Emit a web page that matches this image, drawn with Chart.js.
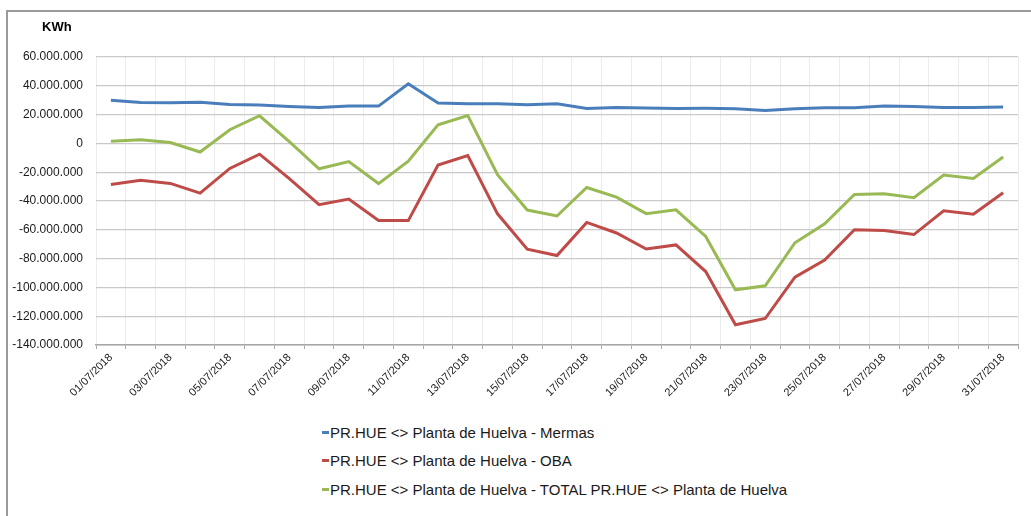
<!DOCTYPE html>
<html>
<head>
<meta charset="utf-8">
<script src="https://cdn.jsdelivr.net/npm/chart.js@4/dist/chart.umd.min.js"></script>
<style>
    body { margin: 0; background: #fff; font-family: "Liberation Sans", Arial, sans-serif; }
    #frame { position: absolute; left: 6px; top: 10px; width: 1100px; height: 600px;
             border-left: 2px solid #9a9a9a; border-top: 2px solid #9a9a9a; box-sizing: border-box; }
    #wrap { position: absolute; left: 0; top: 0; width: 1031px; height: 415px; }
    #unit { position: absolute; left: 42px; top: 18.5px; font-size: 13px; font-weight: bold; color: #000; }
    #legend { position: absolute; left: 322px; top: 418px; font-size: 15px; color: #1a1a1a; }
    .legend-row { height: 28.5px; display: flex; align-items: center; white-space: nowrap; }
    .legend-mark { width: 7px; height: 3px; margin-right: 1px; }
</style>
</head>
<body>
<div id="frame"></div>
<div id="wrap"><canvas id="chart"></canvas></div>
<div id="unit">KWh</div>
<div id="legend"></div>
<script>
const days = [
    '01/07/2018', '02/07/2018', '03/07/2018', '04/07/2018', '05/07/2018', '06/07/2018', '07/07/2018',
    '08/07/2018', '09/07/2018', '10/07/2018', '11/07/2018', '12/07/2018', '13/07/2018', '14/07/2018',
    '15/07/2018', '16/07/2018', '17/07/2018', '18/07/2018', '19/07/2018', '20/07/2018', '21/07/2018',
    '22/07/2018', '23/07/2018', '24/07/2018', '25/07/2018', '26/07/2018', '27/07/2018', '28/07/2018',
    '29/07/2018', '30/07/2018', '31/07/2018',
];

const mermas = [
    30000000, 28400000, 28200000, 28600000, 27000000, 26600000, 25600000, 25000000, 26000000, 25900000,
    41400000, 28000000, 27600000, 27500000, 26900000, 27600000, 24300000, 25000000, 24500000, 24300000,
    24400000, 24100000, 22800000, 24100000, 24800000, 24700000, 26000000, 25600000, 25000000, 25000000,
    25200000,
];

const oba = [
    -28500000, -25600000, -27800000, -34500000, -17400000, -7500000, -24500000, -42600000, -38600000, -53600000,
    -53600000, -15000000, -8400000, -48900000, -73400000, -77900000, -54900000, -62200000, -73300000, -70500000,
    -89000000, -125900000, -121600000, -92900000, -81000000, -60000000, -60500000, -63300000, -46800000, -49200000,
    -34300000,
];

const total = [
    1500000, 2600000, 600000, -6000000, 9500000, 19200000, 1300000, -17600000, -12600000, -27900000,
    -12300000, 12900000, 19300000, -21700000, -46300000, -50400000, -30600000, -37300000, -48800000, -46100000,
    -64600000, -101700000, -98900000, -69000000, -55800000, -35400000, -35000000, -37700000, -22000000, -24300000,
    -9500000,
];

const seriesNames = [
    'PR.HUE <> Planta de Huelva - Mermas',
    'PR.HUE <> Planta de Huelva - OBA',
    'PR.HUE <> Planta de Huelva - TOTAL PR.HUE <> Planta de Huelva',
];
const seriesColors = ['#4a7ebb', '#be4b48', '#98b954'];

const lineStyle = (label, data, color) => ({
    label,
    data,
    borderColor: color,
    backgroundColor: color,
    borderWidth: 3,
    pointRadius: 0,
    tension: 0,
    fill: false,
});

const chart = new Chart(document.getElementById('chart').getContext('2d'), {
    type: 'line',
    data: {
        labels: days,
        datasets: [
            lineStyle(seriesNames[0], mermas, seriesColors[0]),
            lineStyle(seriesNames[1], oba, seriesColors[1]),
            lineStyle(seriesNames[2], total, seriesColors[2]),
        ],
    },
    options: {
        responsive: true,
        maintainAspectRatio: false,
        animation: false,
        layout: { padding: { left: 0, top: 57, right: 13, bottom: 0 } },
        plugins: {
            legend: { display: false },
            tooltip: { enabled: false },
        },
        scales: {
            x: {
                offset: true,
                afterFit(axis) {
                    axis.height = 70;
                },
                grid: { offset: true, color: '#ececec', tickColor: '#a6a6a6', tickLength: 4, drawTicks: true },
                border: { color: '#a6a6a6', width: 1.5 },
                ticks: {
                    autoSkip: false,
                    maxRotation: 45,
                    minRotation: 45,
                    padding: 2,
                    color: '#1a1a1a',
                    font: { family: '"Liberation Sans", Arial, sans-serif', size: 11 },
                    callback(value, index) {
                        return index % 2 === 0 ? days[index] : '';
                    },
                },
            },
            y: {
                min: -140000000,
                max: 60000000,
                afterFit(axis) {
                    axis.width = 96;
                },
                grid: { color: '#c9c9c9', drawTicks: false, lineWidth: 1.2 },
                border: { display: false },
                ticks: {
                    stepSize: 20000000,
                    padding: 13,
                    color: '#1a1a1a',
                    font: { family: '"Liberation Sans", Arial, sans-serif', size: 12 },
                    callback(value) {
                        return Number(value).toLocaleString('de-DE');
                    },
                },
            },
        },
    },
});

const legend = document.getElementById('legend');
chart.data.datasets.forEach((ds) => {
    const row = document.createElement('div');
    row.className = 'legend-row';
    const mark = document.createElement('span');
    mark.className = 'legend-mark';
    mark.style.background = ds.borderColor;
    const text = document.createElement('span');
    text.textContent = ds.label;
    row.append(mark, text);
    legend.appendChild(row);
});
</script>
</body>
</html>
